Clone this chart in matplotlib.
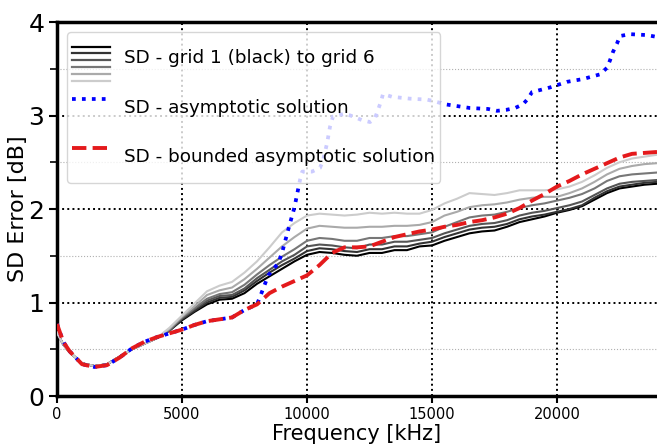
import numpy as np
import matplotlib
matplotlib.use("Agg")
import matplotlib.pyplot as plt
from matplotlib.lines import Line2D
from matplotlib.legend_handler import HandlerBase

# ---------------- data ----------------
freq = [0, 250, 500, 1000, 1500, 2000, 2500, 3000, 3500, 4000, 4500, 5000, 5500, 6000,
        6500, 7000, 7500, 8000, 8500, 9000, 9500, 10000, 10500, 11000, 11500, 12000,
        12500, 13000, 13500, 14000, 14500, 15000, 15500, 16000, 16500, 17000, 17500,
        18000, 18500, 19000, 19500, 20000, 20500, 21000, 21500, 22000, 22500, 23000,
        23500, 24000]

low = [0.68, 0.55, 0.47, 0.35, 0.32, 0.34, 0.42, 0.50, 0.56, 0.62]

grid1 = low + [0.70, 0.81, 0.90, 0.98, 1.03, 1.04, 1.10, 1.20, 1.28, 1.36, 1.44, 1.51,
               1.54, 1.53, 1.51, 1.50, 1.53, 1.53, 1.56, 1.56, 1.60, 1.61, 1.66, 1.70,
               1.74, 1.76, 1.77, 1.81, 1.86, 1.89, 1.92, 1.96, 1.99, 2.03, 2.10, 2.17,
               2.22, 2.24, 2.26, 2.27]
grid2 = low + [0.70, 0.82, 0.91, 1.00, 1.05, 1.06, 1.13, 1.23, 1.32, 1.40, 1.47, 1.55,
               1.58, 1.57, 1.55, 1.54, 1.57, 1.57, 1.60, 1.60, 1.63, 1.65, 1.70, 1.74,
               1.78, 1.80, 1.81, 1.84, 1.89, 1.92, 1.94, 1.97, 2.00, 2.04, 2.12, 2.19,
               2.24, 2.26, 2.28, 2.29]
grid3 = low + [0.70, 0.83, 0.93, 1.02, 1.07, 1.08, 1.15, 1.26, 1.35, 1.44, 1.51, 1.60,
               1.62, 1.61, 1.59, 1.58, 1.62, 1.62, 1.65, 1.65, 1.67, 1.69, 1.74, 1.78,
               1.82, 1.84, 1.85, 1.88, 1.93, 1.96, 1.98, 2.01, 2.04, 2.08, 2.15, 2.22,
               2.27, 2.29, 2.30, 2.31]
grid4 = low + [0.71, 0.84, 0.94, 1.04, 1.09, 1.11, 1.19, 1.30, 1.40, 1.49, 1.57, 1.66,
               1.69, 1.68, 1.66, 1.66, 1.69, 1.69, 1.71, 1.71, 1.73, 1.75, 1.81, 1.86,
               1.91, 1.93, 1.94, 1.97, 2.01, 2.04, 2.06, 2.09, 2.12, 2.16, 2.22, 2.30,
               2.35, 2.37, 2.38, 2.39]
grid5 = low + [0.72, 0.85, 0.96, 1.08, 1.13, 1.16, 1.25, 1.36, 1.48, 1.60, 1.70, 1.79,
               1.82, 1.81, 1.80, 1.80, 1.81, 1.81, 1.82, 1.82, 1.83, 1.86, 1.93, 1.97,
               2.02, 2.04, 2.05, 2.07, 2.10, 2.12, 2.13, 2.13, 2.17, 2.22, 2.29, 2.37,
               2.43, 2.46, 2.48, 2.49]
grid6 = low + [0.73, 0.86, 0.99, 1.12, 1.18, 1.22, 1.32, 1.44, 1.59, 1.75, 1.85, 1.93,
               1.95, 1.94, 1.93, 1.94, 1.96, 1.95, 1.96, 1.95, 1.95, 1.99, 2.06, 2.11,
               2.17, 2.16, 2.15, 2.17, 2.20, 2.20, 2.20, 2.21, 2.24, 2.29, 2.36, 2.44,
               2.50, 2.54, 2.56, 2.58]
grids = [grid1, grid2, grid3, grid4, grid5, grid6]

bounded = [0.77, 0.58, 0.48, 0.34, 0.31, 0.33, 0.41, 0.51, 0.58, 0.63, 0.67, 0.71, 0.76,
           0.80, 0.82, 0.84, 0.92, 0.98, 1.10, 1.17, 1.23, 1.29, 1.40, 1.53, 1.59, 1.59,
           1.60, 1.65, 1.70, 1.73, 1.76, 1.78, 1.81, 1.83, 1.86, 1.88, 1.91, 1.95, 2.01,
           2.09, 2.16, 2.24, 2.30, 2.37, 2.43, 2.49, 2.55, 2.59, 2.60, 2.61]

freq_asym = [0, 250, 500, 1000, 1500, 2000, 2500, 3000, 3500, 4000, 4500, 5000, 5500,
             6000, 6500, 7000, 7500, 8000, 8120, 8450, 8850, 9000, 9250, 9500, 9720,
             9810, 10200, 10520, 10640, 10800, 10920, 11040, 11520, 11840, 12200, 12520,
             12720, 12840, 12960, 13040, 13400, 14120, 14800, 15120, 15520, 16520, 17240,
             17600, 17960, 18320, 18640, 18840, 19000, 19720, 20400, 21040, 21720, 22000,
             22120, 22240, 22400, 22520, 22920, 23600, 24000]
asym = [0.77, 0.58, 0.48, 0.34, 0.31, 0.33, 0.41, 0.51, 0.58, 0.63, 0.67, 0.71, 0.76,
        0.80, 0.82, 0.84, 0.92, 0.98, 1.06, 1.29, 1.42, 1.53, 1.78, 2.02, 2.31,
        2.40, 2.40, 2.44, 2.52, 2.70, 2.88, 2.99, 3.02, 2.99, 2.95, 2.93,
        2.97, 3.06, 3.15, 3.23, 3.20, 3.18, 3.17, 3.15, 3.12, 3.08, 3.07,
        3.05, 3.06, 3.08, 3.12, 3.18, 3.25, 3.30, 3.36, 3.39, 3.44, 3.51,
        3.59, 3.68, 3.77, 3.85, 3.87, 3.86, 3.84]

grid_colors = ["#000000", "#333333", "#555555", "#777777", "#aaaaaa", "#cccccc"]
labels = ["SD - grid 1 (black) to grid 6", "SD - asymptotic solution",
          "SD - bounded asymptotic solution"]
yticks = [0, 1, 2, 3, 4]
xticks = [0, 5000, 10000, 15000, 20000]

# ---------------- figure ----------------
fig = plt.figure(figsize=(6.57, 4.47), dpi=100)
ax = fig.add_axes([57 / 657, 51 / 447, 600 / 657, 374 / 447])

glines = []
for g, c in zip(grids, grid_colors):
    l, = ax.plot(freq, g, color=c, lw=1.5, zorder=3)
    glines.append(l)
bl, = ax.plot(freq_asym, asym, color="#0000ff", ls=":", lw=2.7, zorder=4)
rl, = ax.plot(freq, bounded, color="#e41a1c", ls="--", lw=2.8, zorder=5)

ax.set_xlim(0, 24000)
ax.set_ylim(0, 4)
ax.set_xticks(xticks)
ax.set_yticks(yticks)
ax.set_yticks(np.arange(0.5, 4, 1.0), minor=True)
ax.tick_params(axis="y", which="major", labelsize=18, length=6, width=1.5, pad=3)
ax.tick_params(axis="y", which="minor", length=5, width=1.2)
ax.tick_params(axis="x", which="major", labelsize=10.5, length=5, width=1.5, pad=3)
ax.grid(True, which="major", color="black", ls=":", lw=1.4)
ax.grid(True, which="minor", axis="y", color="#b0b0b0", ls=":", lw=0.8)
ax.set_axisbelow(True)
for s in ["left", "bottom", "top"]:
    ax.spines[s].set_linewidth(2.5)
ax.spines["right"].set_visible(False)

ax.set_xlabel("Frequency [kHz]", fontsize=15, labelpad=1)
ax.set_ylabel("SD Error [dB]", fontsize=16)
ax.yaxis.set_label_coords(-0.048, 0.5)


class GridHandler(HandlerBase):
    def create_artists(self, legend, orig_handle, xdescent, ydescent, width, height,
                       fontsize, trans):
        arts = []
        for i, c in enumerate(grid_colors):
            y = 11.7 - i * 4.9
            l = Line2D([-xdescent, -xdescent + width], [y, y], color=c, lw=1.6)
            l.set_transform(trans)
            arts.append(l)
        return arts


class OffsetLineHandler(HandlerBase):
    def __init__(self, yoff, **kw):
        super().__init__(**kw)
        self.yoff = yoff

    def create_artists(self, legend, orig_handle, xdescent, ydescent, width, height,
                       fontsize, trans):
        l = Line2D([-xdescent, -xdescent + width], [self.yoff, self.yoff])
        self.update_prop(l, orig_handle, legend)
        l.set_transform(trans)
        return [l]


leg = ax.legend([glines[0], bl, rl], labels, loc="upper left", fontsize=13.2,
                handlelength=2.05, handleheight=3.05, labelspacing=0.49,
                borderpad=0.28, handletextpad=0.78, borderaxespad=0.54,
                handler_map={glines[0]: GridHandler(), bl: OffsetLineHandler(10.0),
                             rl: OffsetLineHandler(10.4)})
leg.set_zorder(10)

fig.savefig("out.png", dpi=100)
